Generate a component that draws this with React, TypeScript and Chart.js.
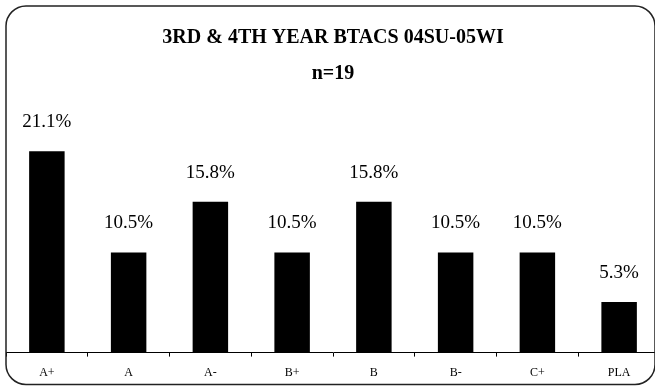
import React, { useEffect, useRef } from "react";
import { Chart, registerables } from "chart.js";

Chart.register(...registerables);

const categories = ["A+", "A", "A-", "B+", "B", "B-", "C+", "PLA"];
const percentages = [21.1, 10.5, 15.8, 10.5, 15.8, 10.5, 10.5, 5.3];
const titleText = "3RD & 4TH YEAR BTACS 04SU-05WI";
const subtitleText = "n=19";

const FONT = "'Liberation Serif', 'Times New Roman', serif";

const borderPlugin = {
  id: "roundBorder",
  afterDraw(chart: any) {
    const ctx = chart.ctx;
    ctx.save();
    ctx.beginPath();
    (ctx as any).roundRect(6, 6, 649, 378.5, 20);
    ctx.lineWidth = 1.5;
    ctx.strokeStyle = "#222";
    ctx.stroke();
    ctx.restore();
  },
};

const valueLabelPlugin = {
  id: "valueLabels",
  afterDatasetsDraw(chart: any) {
    const ctx = chart.ctx;
    const meta = chart.getDatasetMeta(0);
    const data = chart.data.datasets[0].data as number[];
    ctx.save();
    ctx.font = `19px ${FONT}`;
    ctx.fillStyle = "#000";
    ctx.textAlign = "center";
    ctx.textBaseline = "alphabetic";
    meta.data.forEach((bar: any, i: number) => {
      ctx.fillText(`${data[i].toFixed(1)}%`, bar.x, bar.y - 24);
    });
    ctx.restore();
  },
};

export default function App() {
  const ref = useRef<HTMLCanvasElement | null>(null);

  useEffect(() => {
    if (!ref.current) return;
    const chart = new Chart(ref.current, {
      type: "bar",
      data: {
        labels: categories,
        datasets: [
          {
            data: percentages,
            backgroundColor: "#000",
            borderWidth: 0,
            categoryPercentage: 1,
            barPercentage: 0.434,
          },
        ],
      },
      options: {
        animation: false,
        responsive: false,
        devicePixelRatio: 1,
        layout: { padding: { top: 0, left: 6, right: 0, bottom: 7 } },
        plugins: {
          legend: { display: false },
          tooltip: { enabled: false },
          title: {
            display: true,
            text: titleText,
            color: "#000",
            font: { family: FONT, size: 20, weight: "bold", lineHeight: 1.2 },
            padding: { top: 26, bottom: 0 },
          },
          subtitle: {
            display: true,
            text: subtitleText,
            color: "#000",
            font: { family: FONT, size: 20, weight: "bold", lineHeight: 1.2 },
            padding: { top: 12, bottom: 28 },
          },
        },
        scales: {
          x: {
            grid: {
              display: true,
              drawOnChartArea: false,
              drawTicks: true,
              tickLength: 4,
              color: "#000",
              offset: true,
            },
            border: { display: true, color: "#000", width: 1 },
            ticks: {
              color: "#000",
              padding: 9,
              font: { family: FONT, size: 12 },
              maxRotation: 0,
            },
          },
          y: {
            display: false,
            min: 0,
            max: 25,
          },
        },
      },
      plugins: [valueLabelPlugin, borderPlugin],
    });
    return () => chart.destroy();
  }, []);

  return (
    <div
      style={{
        position: "fixed",
        left: 0,
        top: 0,
        width: 655,
        height: 386,
        overflow: "hidden",
        background: "#fff",
      }}
    >
      <canvas ref={ref} width={660} height={396} style={{ display: "block" }} />
    </div>
  );
}
